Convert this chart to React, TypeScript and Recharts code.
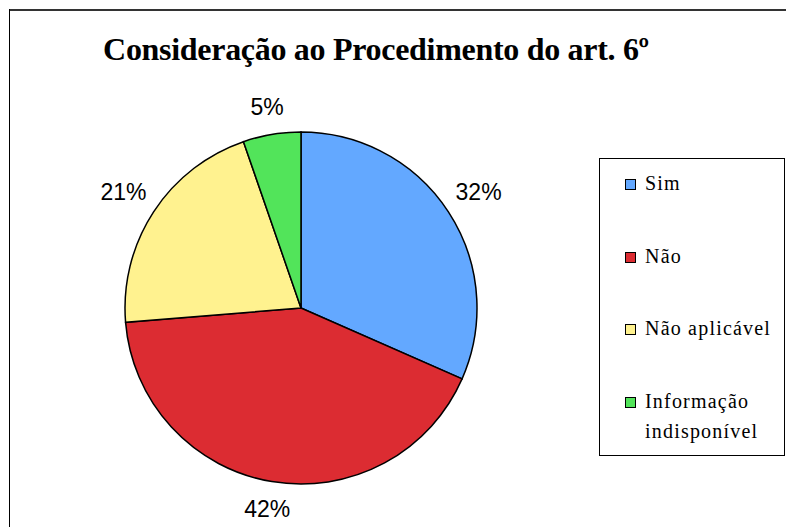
import React from 'react';
import { PieChart, Pie, Cell, Legend } from 'recharts';

const categories = ['Sim', 'Não', 'Não aplicável', 'Informação indisponível'];
const shares = [31.6, 42.1, 21.0, 5.3];
const sliceColors = ['#63A8FF', '#DC2C32', '#FFF28F', '#52E45A'];

const chartData = categories.map((name, i) => ({ name, value: shares[i] }));

const RADIAN = Math.PI / 180;

// labels sit outside the slice; wider offset where the text runs sideways
const renderLabel = ({ cx, cy, midAngle, outerRadius, value }: any) => {
    const cos = Math.cos(-midAngle * RADIAN);
    const r = outerRadius + 26 + 12 * Math.abs(cos);
    const x = cx + r * cos;
    const y = cy + r * Math.sin(-midAngle * RADIAN);
    return (
        <text
            x={x}
            y={y}
            textAnchor="middle"
            dominantBaseline="central"
            fontFamily="'Liberation Sans', Arial, sans-serif"
            fontSize={23}
            fill="#000"
        >
            {`${Math.round(value)}%`}
        </text>
    );
};

const LegendBox = () => (
    <div
        style={{
            position: 'absolute',
            left: 599,
            top: 158,
            width: 184,
            height: 296,
            border: '1px solid #000',
            background: '#fff',
            fontFamily: "'Liberation Serif', 'Times New Roman', serif",
            fontSize: 20,
            letterSpacing: 1.2,
            color: '#000'
        }}
    >
        {categories.map((name, i) => {
            const words = name === 'Informação indisponível' ? ['Informação', 'indisponível'] : [name];
            return (
                <div key={name} style={{ position: 'absolute', left: 25, top: 12 + i * 72.5 }}>
                    <span
                        style={{
                            position: 'absolute',
                            left: 0,
                            top: 8,
                            width: 9,
                            height: 9,
                            border: '1.5px solid #000',
                            background: sliceColors[i]
                        }}
                    />
                    <div style={{ position: 'absolute', left: 20, top: 0, whiteSpace: 'nowrap', lineHeight: '30px', marginTop: -3 }}>
                        {words.map(w => <div key={w}>{w}</div>)}
                    </div>
                </div>
            );
        })}
    </div>
);

const App: React.FC = () => {
    return (
        <div style={{ position: 'relative', left: -8, top: -8, width: 794, height: 527, background: '#fff', overflow: 'hidden' }}>
            {/* outer frame, open to the right and bottom like the source */}
            <div style={{ position: 'absolute', left: 9, top: 9, width: 800, height: 2, background: '#333' }} />
            <div style={{ position: 'absolute', left: 9, top: 9, width: 1, height: 540, background: '#000' }} />
            <div
                style={{
                    position: 'absolute',
                    left: 0,
                    top: 31,
                    width: 752,
                    textAlign: 'center',
                    fontFamily: "'Liberation Serif', 'Times New Roman', serif",
                    fontWeight: 'bold',
                    fontSize: 32,
                    lineHeight: '36px',
                    letterSpacing: -0.3
                }}
            >
                Consideração ao Procedimento do art. 6º
            </div>
            <div style={{ position: 'absolute', left: 0, top: 0 }}>
                <PieChart width={794} height={527} margin={{ top: 0, right: 0, bottom: 0, left: 0 }}>
                    <Pie
                        data={chartData}
                        dataKey="value"
                        nameKey="name"
                        cx={301}
                        cy={308}
                        outerRadius={176}
                        startAngle={90}
                        endAngle={-270}
                        stroke="#000"
                        strokeWidth={1.5}
                        label={renderLabel}
                        labelLine={false}
                        isAnimationActive={false}
                    >
                        {chartData.map((entry, index) => (
                            <Cell key={`cell-${index}`} fill={sliceColors[index]} />
                        ))}
                    </Pie>
                    <Legend content={() => null} />
                </PieChart>
            </div>
            <LegendBox />
        </div>
    );
};

export default App;
